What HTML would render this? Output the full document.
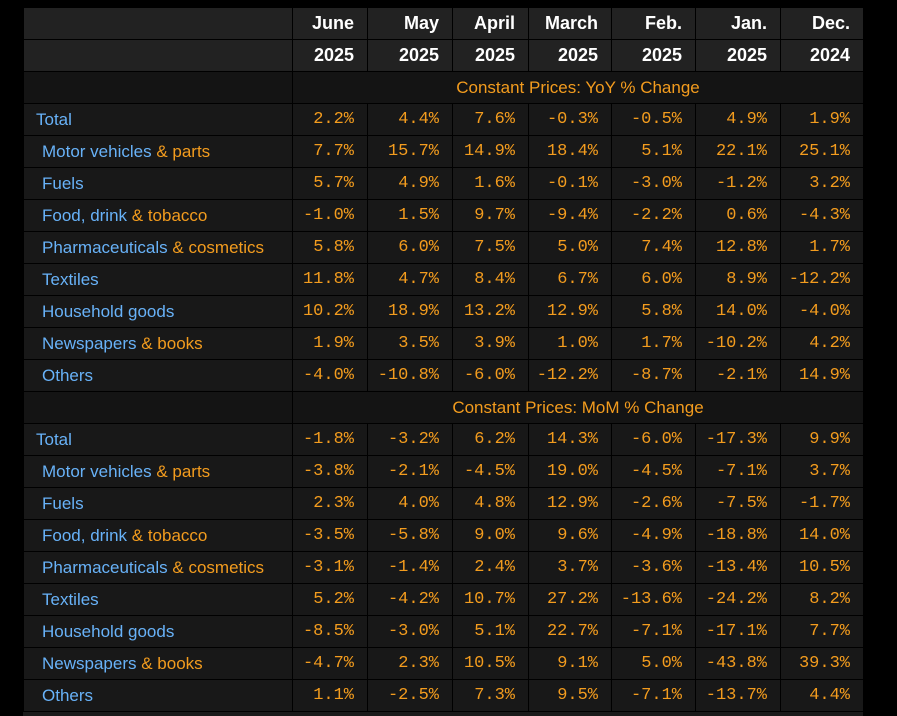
<!DOCTYPE html>
<html style="overflow:hidden;height:716px"><head><meta charset="utf-8"><style>
body{margin:0;background:#000;width:897px;height:716px;overflow:hidden;position:relative}
#t{position:absolute;left:23px;top:7px;border-collapse:collapse;table-layout:fixed}
td{border:1px solid #000;height:31px;padding:0 13px 0 0;text-align:right;white-space:nowrap;overflow:hidden;background:#181818;color:#f39c1e;font:17px "Liberation Mono",monospace}
tr.h td{background:#222;color:#fff;font:bold 18px "Liberation Sans",sans-serif}
tr.s td{background:#141414}
tr.s td.sec{text-align:center;font:17px "Liberation Sans",sans-serif;padding:0}
td.lab{text-align:left;color:#68b2f8;font:17px "Liberation Sans",sans-serif;padding-left:12px}
td.lab.sub{padding-left:18px}
td.lab span{color:#f39c1e}
</style></head><body>
<table id="t"><colgroup>
<col style="width:269px"><col style="width:75px"><col style="width:85px"><col style="width:76px"><col style="width:83px"><col style="width:84px"><col style="width:85px"><col style="width:83px"></colgroup><tbody id="b"></tbody></table>
<script>
const months=["June","May","April","March","Feb.","Jan.","Dec."];
const years=["2025","2025","2025","2025","2025","2025","2024"];
const rows=["Total","Motor vehicles & parts","Fuels","Food, drink & tobacco","Pharmaceuticals & cosmetics","Textiles","Household goods","Newspapers & books","Others"];
const yoy=[[2.2,4.4,7.6,-0.3,-0.5,4.9,1.9],[7.7,15.7,14.9,18.4,5.1,22.1,25.1],[5.7,4.9,1.6,-0.1,-3.0,-1.2,3.2],[-1.0,1.5,9.7,-9.4,-2.2,0.6,-4.3],[5.8,6.0,7.5,5.0,7.4,12.8,1.7],[11.8,4.7,8.4,6.7,6.0,8.9,-12.2],[10.2,18.9,13.2,12.9,5.8,14.0,-4.0],[1.9,3.5,3.9,1.0,1.7,-10.2,4.2],[-4.0,-10.8,-6.0,-12.2,-8.7,-2.1,14.9]];
const mom=[[-1.8,-3.2,6.2,14.3,-6.0,-17.3,9.9],[-3.8,-2.1,-4.5,19.0,-4.5,-7.1,3.7],[2.3,4.0,4.8,12.9,-2.6,-7.5,-1.7],[-3.5,-5.8,9.0,9.6,-4.9,-18.8,14.0],[-3.1,-1.4,2.4,3.7,-3.6,-13.4,10.5],[5.2,-4.2,10.7,27.2,-13.6,-24.2,8.2],[-8.5,-3.0,5.1,22.7,-7.1,-17.1,7.7],[-4.7,2.3,10.5,9.1,5.0,-43.8,39.3],[1.1,-2.5,7.3,9.5,-7.1,-13.7,4.4]];
const b=document.getElementById('b');
function hdr(arr,name){const tr=document.createElement('tr');tr.className='h';


tr.appendChild(document.createElement('td'));
arr.forEach(v=>{const td=document.createElement('td');td.textContent=v;


tr.appendChild(td);});b.appendChild(tr);}
hdr(months,'month-header-row');hdr(years,'year-header-row');
function lab(s){return s.replace(/&(.*)$/,'<span>&amp;$1</span>');}
function section(title,data){const tr=document.createElement('tr');tr.className='s';


tr.innerHTML='<td></td><td class="sec" colspan="7">'+title+'</td>';b.appendChild(tr);
data.forEach((r,i)=>{const tr=document.createElement('tr');


const l=document.createElement('td');l.className='lab'+(i?' sub':'');l.innerHTML=lab(rows[i]);


tr.appendChild(l);
r.forEach(v=>{const td=document.createElement('td');td.textContent=v.toFixed(1)+'%';


tr.appendChild(td);});b.appendChild(tr);});}
section('Constant Prices: YoY % Change',yoy);
section('Constant Prices: MoM % Change',mom);
</script>
<div style="position:absolute;left:23px;top:712px;width:840px;height:4px;background:#1a1a1a"></div>
</body></html>
